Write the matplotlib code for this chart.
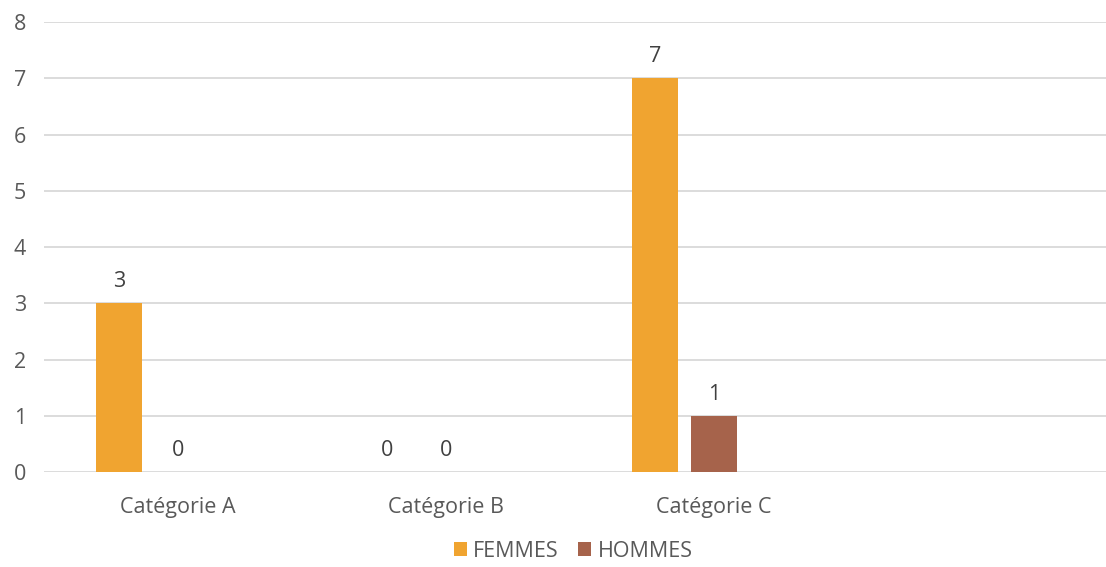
import numpy as np
import matplotlib.pyplot as plt

# data
categories = ['Catégorie A', 'Catégorie B', 'Catégorie C', '']
femmes = [3, 0, 7]
hommes = [0, 0, 1]
series_names = ['FEMMES', 'HOMMES']

plt.rcParams['font.family'] = ['Open Sans', 'DejaVu Sans']
text_color = '#595959'
colors = ['#F0A430', '#A6634B']
fs = 15.5

fig = plt.figure(figsize=(11.06, 5.67), dpi=100)
ax = fig.add_axes([44 / 1106, 95 / 567, 1 - 44 / 1106, 450 / 567])

width = 0.172
step = 0.22
x = np.arange(len(femmes))
for k, (vals, name) in enumerate(zip([femmes, hommes], series_names)):
    pos = x + (k - 1) * step
    bars = ax.bar(pos, vals, width, color=colors[k], label=name, zorder=3)
    for p, v in zip(pos, vals):
        ax.annotate(str(v), (p, v), xytext=(0, 8), textcoords='offset points',
                    ha='center', va='bottom', fontsize=fs, color='#404040')

ax.set_xlim(-0.5, (1106 - 178) / 268)
ax.set_ylim(0, 8)
ax.set_yticks(range(0, 9))
ax.set_xticks(range(len(categories)))
ax.set_xticklabels(categories)
ax.tick_params(axis='both', length=0, labelsize=fs, colors=text_color)
ax.tick_params(axis='y', pad=13)
ax.tick_params(axis='x', pad=18)
ax.yaxis.grid(True, color='#D9D9D9', linewidth=1.3, zorder=0)
for s in ax.spines.values():
    s.set_visible(False)

fig.legend(loc='lower center', bbox_to_anchor=(573 / 1106, -0.025), ncol=2, frameon=False,
           fontsize=fs, handlelength=0.6, handleheight=0.6, handletextpad=0.3,
           columnspacing=0.9, labelcolor=text_color)

fig.savefig('out.png', dpi=100)
